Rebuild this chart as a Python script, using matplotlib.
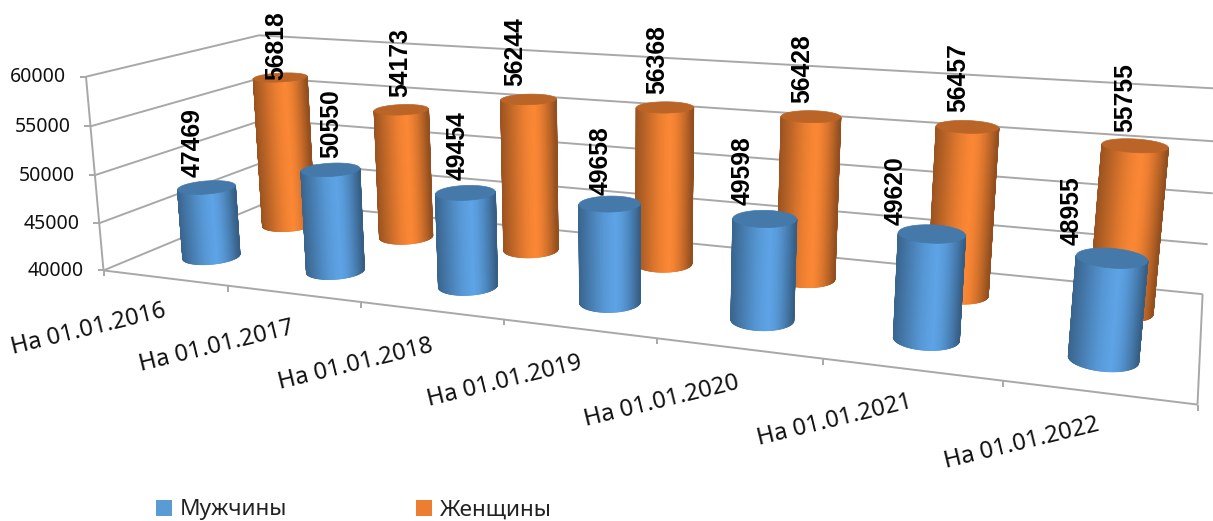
import numpy as np
import matplotlib
matplotlib.use("Agg")
import matplotlib.pyplot as plt
from matplotlib.patches import Polygon, Rectangle
from matplotlib.collections import LineCollection
from matplotlib.colors import to_rgb, LinearSegmentedColormap

categories = ["На 01.01.2016", "На 01.01.2017", "На 01.01.2018", "На 01.01.2019",
              "На 01.01.2020", "На 01.01.2021", "На 01.01.2022"]
men = [47469, 50550, 49454, 49658, 49598, 49620, 48955]
women = [56818, 54173, 56244, 56368, 56428, 56457, 55755]
value_ticks = [40000, 45000, 50000, 55000, 60000]
series_names = ["Мужчины", "Женщины"]

W, H = 1213, 521
VMIN, VMAX = 40000, 60000
FONT = "Noto Sans"
GRID = "#a8a8a8"

# calibration of the 3-D box: (category, depth, level) -> pixel
CAL = [((0, 0, 0), (105, 270)), ((0, 0, 1), (85, 76)), ((0, 1, 0), (268, 202)), ((0, 1, 1), (260, 35)),
       ((7, 0, 0), (1198, 405)), ((7, 1, 0), (1203, 293)), ((7, 1, 1), (1223, 90)),
       ((1, 0, 0), (228, 287)), ((2, 0, 0), (360, 302)), ((6, 0, 0), (1002, 380))]
A = []
b = []
for (x, y, z), (u, v) in CAL:
    A.append([x, y, z, 1, 0, 0, 0, 0, -u * x, -u * y, -u * z])
    b.append(u)
    A.append([0, 0, 0, 0, x, y, z, 1, -v * x, -v * y, -v * z])
    b.append(v)
P = np.append(np.linalg.lstsq(np.array(A, float), np.array(b, float), rcond=None)[0], 1).reshape(3, 4)


def proj(x, y, v):
    x, y, v = np.broadcast_arrays(x, y, v)
    z = (np.asarray(v, float) - VMIN) / (VMAX - VMIN)
    q = P @ np.vstack([x.ravel(), y.ravel(), z.ravel(), np.ones(x.size)])
    return q[0] / q[2], q[1] / q[2]


def pt(x, y, v):
    u, w = proj(x, y, v)
    return float(u[0]), float(w[0])


fig = plt.figure(figsize=(W / 100, H / 100), dpi=100)
ax = fig.add_axes([0, 0, 1, 1])
ax.set_xlim(0, W)
ax.set_ylim(H, 0)
ax.axis("off")


def line(p, q, z=1, lw=1.4):
    ax.plot([p[0], q[0]], [p[1], q[1]], color=GRID, lw=lw, zorder=z, solid_capstyle="butt")


N = len(categories)
for v in value_ticks:
    a = pt(0, 0, v)
    c = pt(0, 1, v)
    d = pt(N, 1, v)
    line(a, c)
    line(c, d)
    line((a[0] - 6, a[1]), a)
    ax.text(a[0] - 20, a[1] + 0.5, str(v), ha="right", va="center",
            family=FONT, fontsize=14, color="#111111")
line(pt(0, 0, VMIN), pt(0, 0, VMAX))
line(pt(0, 0, VMIN), pt(N, 0, VMIN))
line(pt(N, 0, VMIN), pt(N, 1, VMIN))
for i in range(N + 1):
    p = pt(i, 0, VMIN)
    line(p, (p[0], p[1] + 6))

# category labels
CAT_POS = [(89, 329), (217, 346), (356, 364), (505, 381), (662, 401), (835, 420), (1022, 443)]
for name, (cx, cy) in zip(categories, CAT_POS):
    ax.text(cx, cy, name, rotation=13.7, ha="center", va="center", rotation_mode="anchor",
            family=FONT, fontsize=17.1, color="#111111")

RX, RY = 0.19, 0.10
DEPTH = {0: 0.27, 1: 0.73}
OFFS = {0: 0.49, 1: 0.53}
SHADE_X = [0, .1, .2, .3, .4, .5, .6, .7, .8, .9, 1]
SHADE_K = [.64, .72, .80, .88, .95, 1.0, 1.03, .98, .88, .75, .60]


def cylinder(i, s, v, color, z):
    base = np.array(to_rgb(color))
    cmap = LinearSegmentedColormap.from_list(
        "shade", [(x, tuple(np.clip(base * k, 0, 1))) for x, k in zip(SHADE_X, SHADE_K)])
    t = np.linspace(0, 2 * np.pi, 241)[:-1]
    cx = i + OFFS[s] + RX * np.cos(t)
    cy = DEPTH[s] + RY * np.sin(t)
    bx, by = proj(cx, cy, VMIN)
    tx, ty = proj(cx, cy, v)
    mx = (bx + tx) / 2
    lo, hi = mx.min(), mx.max()
    # the visible side runs from the leftmost to the rightmost silhouette point
    start, stop = int(np.argmin(mx)), int(np.argmax(mx))
    idx = np.arange(start, stop + 1) if stop > start else np.r_[start:len(t), 0:stop + 1]
    if by[idx].mean() < by.mean():
        idx = np.arange(stop, start + 1) if start > stop else np.r_[stop:len(t), 0:start + 1]
    X = np.vstack([bx[idx], tx[idx]])
    Y = np.vstack([by[idx], ty[idx]])
    s_val = (mx[idx] - lo) / (hi - lo)
    C = np.vstack([s_val, s_val])
    ax.pcolormesh(X, Y, C, shading="gouraud", cmap=cmap, vmin=0, vmax=1, zorder=z)
    # soft outline so that the gouraud-filled side has smooth edges
    pts = np.column_stack([bx[idx], by[idx]])
    segs = np.stack([pts[:-1], pts[1:]], axis=1)
    ax.add_collection(LineCollection(segs, colors=cmap((s_val[:-1] + s_val[1:]) / 2), linewidths=0.9,
                                     zorder=z + 0.001))
    ax.plot([X[0, 0], X[1, 0]], [Y[0, 0], Y[1, 0]], color=cmap(float(s_val[0])), lw=0.9, zorder=z + 0.001)
    ax.plot([X[0, -1], X[1, -1]], [Y[0, -1], Y[1, -1]], color=cmap(float(s_val[-1])), lw=0.9, zorder=z + 0.001)
    ax.add_patch(Polygon(np.column_stack([tx, ty]), closed=True, fc=base * 0.76, ec=base * 0.76,
                         lw=0.5, zorder=z + 0.005))


BLUE, ORANGE = "#5b9fe0", "#f58433"
for i, v in enumerate(women):
    cylinder(i, 1, v, ORANGE, 3 + i * 0.01)
for i, v in enumerate(men):
    cylinder(i, 0, v, BLUE, 5 + i * 0.01)

# data labels (x centre, bottom y in pixels)
MEN_LBL = [(193, 177), (331, 158), (458, 180), (601, 195), (743, 205), (896, 225), (1072, 245)]
WOMEN_LBL = [(276, 80), (400, 97), (515, 86), (657, 94), (802, 103), (958, 112), (1125, 132)]
for vals, pos in ((men, MEN_LBL), (women, WOMEN_LBL)):
    for v, (x, y) in zip(vals, pos):
        ax.text(x, y, str(v), rotation=90, ha="center", va="bottom", family="Liberation Sans",
                fontweight="bold", fontsize=17.8, color="black", zorder=10)

# legend
for x, c, name in ((156, "#5b9bd5", series_names[0]), (416, "#ed7d31", series_names[1])):
    ax.add_patch(Rectangle((x, 500), 16, 16, fc=c, ec="none"))
    ax.text(x + 24, 515.5, name, ha="left", va="baseline", family=FONT, fontsize=16.3, color="#222222")

fig.savefig("out.png", dpi=100)
